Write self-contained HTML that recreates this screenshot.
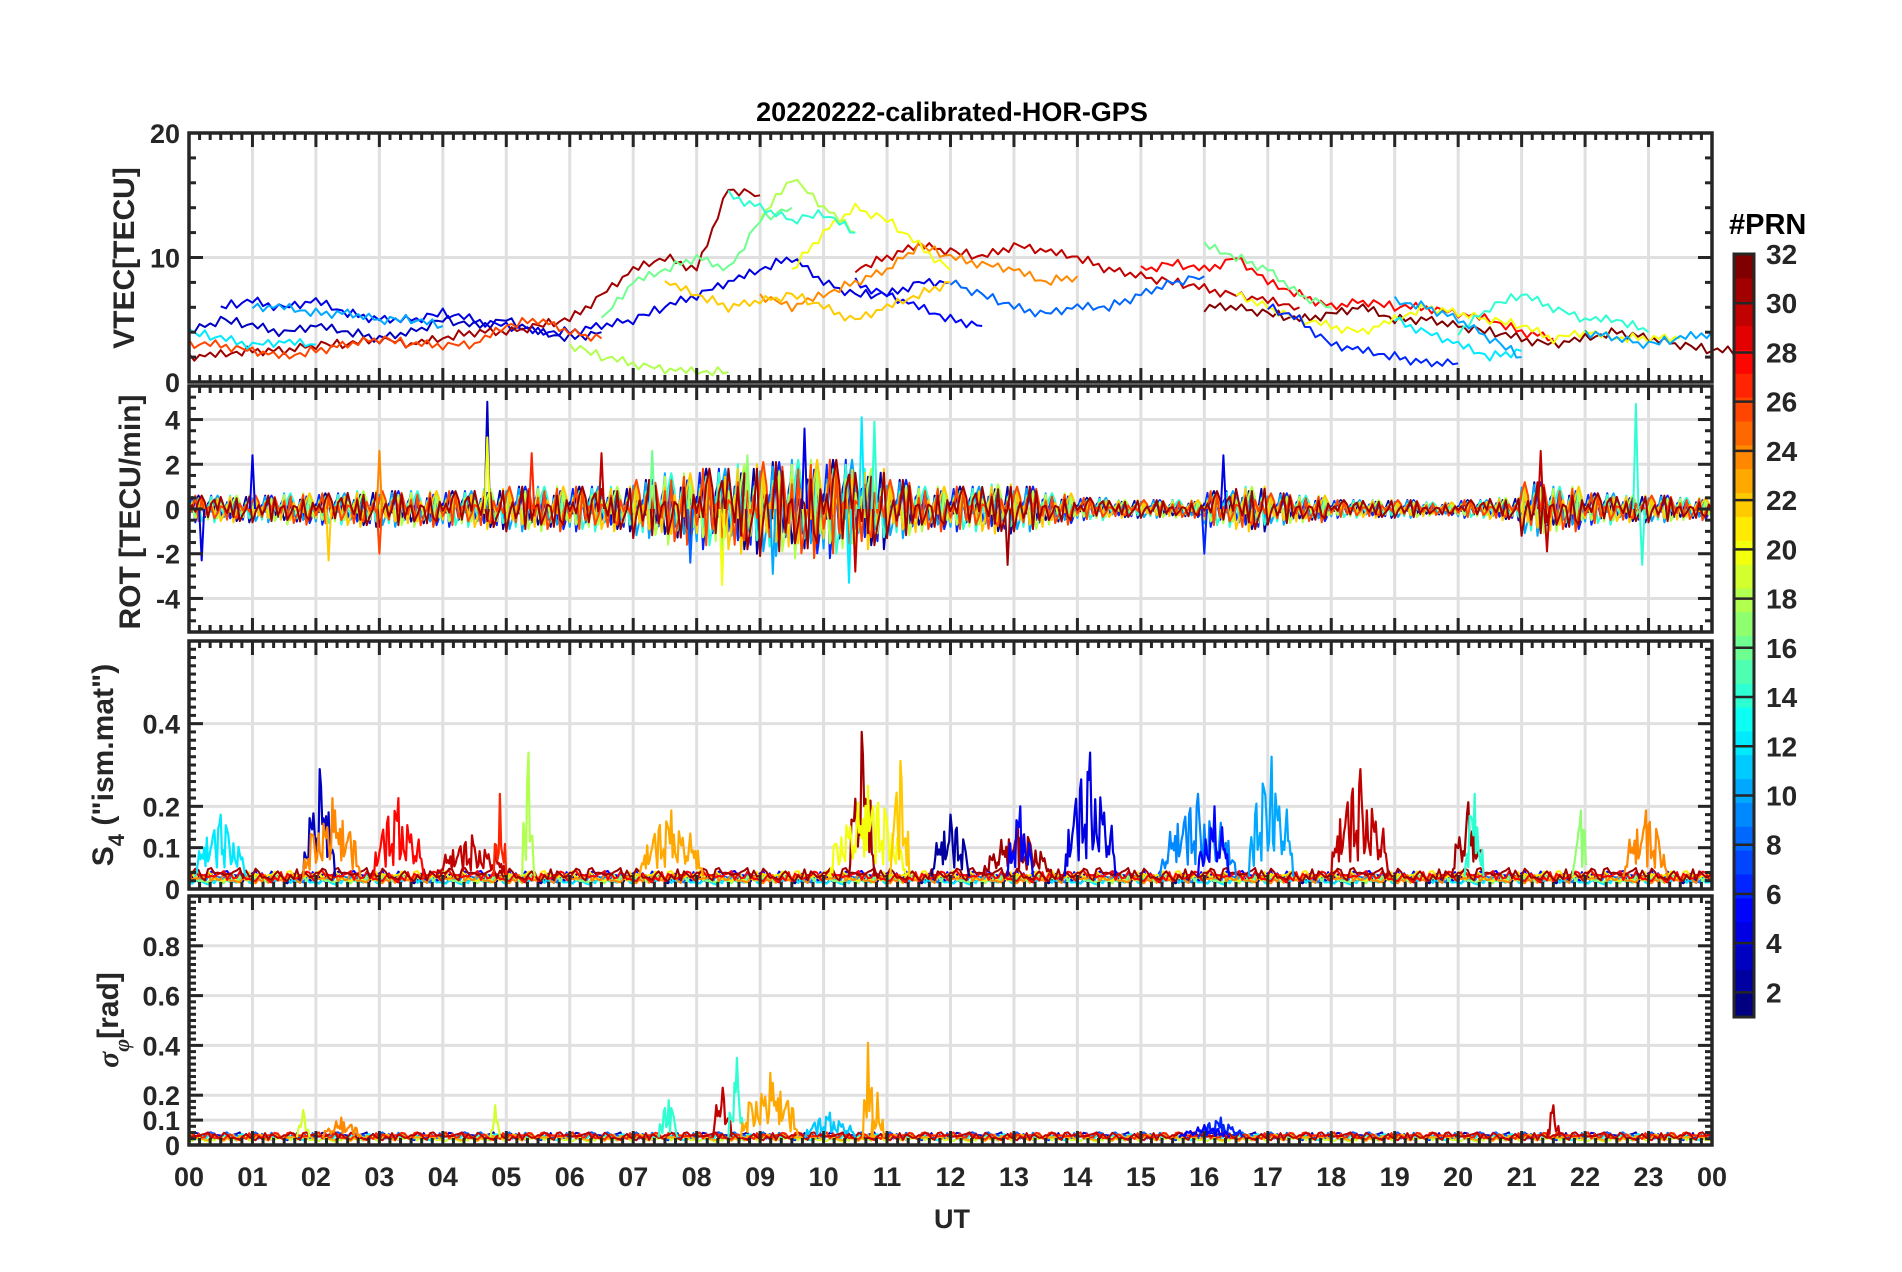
<!DOCTYPE html>
<html><head><meta charset="utf-8">
<style>
html,body{margin:0;padding:0;background:#fff;}
svg{display:block;font-family:"Liberation Sans",sans-serif;font-weight:bold;}
</style></head>
<body>
<svg id="chart" width="1902" height="1272" viewBox="0 0 1902 1272" xmlns="http://www.w3.org/2000/svg">
<rect x="0" y="0" width="1902" height="1272" fill="#fff"/>
<text x="952" y="121" font-size="27" text-anchor="middle" fill="#000">20220222-calibrated-HOR-GPS</text>
<g id="plots"></g>
<text x="952" y="1228" font-size="27" text-anchor="middle" fill="#262626">UT</text>
<text transform="translate(134,258) rotate(-90)" font-size="30" text-anchor="middle" fill="#262626">VTEC[TECU]</text>
<text transform="translate(140,512) rotate(-90)" font-size="30" text-anchor="middle" fill="#262626">ROT [TECU/min]</text>
<text transform="translate(113,765) rotate(-90)" font-size="30" text-anchor="middle" fill="#262626">S<tspan font-size="22" dy="11">4</tspan><tspan dy="-11"> ("ism.mat")</tspan></text>
<text transform="translate(118,1020) rotate(-90)" font-size="30" text-anchor="middle" fill="#262626"><tspan font-style="italic" font-family="Liberation Serif">σ</tspan><tspan font-size="22" dy="11" font-style="italic" font-family="Liberation Serif">φ</tspan><tspan dy="-11">[rad]</tspan></text>
<g id="cbar"></g>
</svg>
<script>
// ---------- data ----------
const hourTicks=["00","01","02","03","04","05","06","07","08","09","10","11","12","13","14","15","16","17","18","19","20","21","22","23","00"];
const vtecTicks=[0,10,20];
const rotTicks=[-4,-2,0,2,4];
const s4Ticks=[0,0.1,0.2,0.4];
const sigTicks=[0,0.1,0.2,0.4,0.6,0.8];
const cbarTicks=[2,4,6,8,10,12,14,16,18,20,22,24,26,28,30,32];
// VTEC series: prn, start hour, values every 0.5 h
const vtecPrn=[3,4,5,31,30,32,28,26,24,22,20,20,18,18,16,16,14,14,12,12,10,10,10,8,6];
const vtecStart=[0,0.5,10.5,0,10.5,16,15,0,9,7.5,9.5,16.5,6,9.0,6.5,16,8.5,20,0,19,1,19,22,12,17];
const vtecVals=[
[4,5,4.5,4,4.5,4,3.5,4,5,4.5,5,4,3.5,4],
[6,6.5,6,6.5,5.5,5,5,5.5,5,4.5,4,4,4.5,5,6,7,8,9,10,8,7,7,8,8],
[8,7,6,5,4.5],
[2,2.2,2.5,2.5,3,3,3.5,3,3.5,4,4,4.5,5,7,9,10,9,15.5,15],
[9,10,11,10.5,10,11,10.5,10,9,8.5,8,7.5,7,6.5,6],
[6,6,5.5,5,5.5,6,5,5,4.5,4,3.5,3,3.5,4,3.5,3,2.5,2.5],
[9,9.5,9,10,8,7,6,6.5,6,6,5.5,5,4,3.5],
[3,3,2.5,2,2.5,3,3.5,3,3,3,4.5,5,4,3.5],
[7,6,7,8,9,11,10,9.5,9,8,8.5],
[8,7,6,6.5,7,6,5,6,7,8],
[9,12,14,13,11,9],
[7,6,5,4.5,4,5,6,5.5,5,4.5,3.5,4,3.5,3.5,3.5],
[3,2,1.5,1,0.8,0.8],
[13,16.5,14,12],
[5,8,9,10,9,13,14],
[11,10,9,7,6],
[15,14,13,13.5,12],
[4,6,7,6,5,5,4],
[4,3.5,3,3.2,3],
[5,4,3,2,2.5],
[6,6,5.5,5.5,5,5,4.5],
[6.5,6,5,3.5,2],
[4,3.5,3,3.5,4],
[8,7,6,5.5,6,6,7,8,8.5],
[6,5,3,2.5,2,1.5,1.5]];
// ROT
const rotPattern=[0.3,-0.5,0.8,-0.2,0.1,-0.9,0.6,0.2,-0.4,1.0,-0.7,0.0,0.5,-0.3,0.9,-0.6,0.2,-1.0,0.4,0.1,-0.2,0.7,-0.8,0.3,-0.1,0.6,-0.4,0.9,-0.5,0.0,0.2,-0.7,1.0,-0.3,0.4,-0.9,0.5,-0.1,0.8,-0.6];
const rotAmp=[0.6,0.6,0.6,0.7,0.7,0.8,0.8,0.8,0.8,0.9,1.0,1.0,1.0,1.0,1.3,1.6,1.8,2.0,2.1,2.2,2.2,1.8,1.3,1.0,1.0,1.1,1.0,0.7,0.5,0.4,0.4,0.4,0.8,1.0,0.7,0.6,0.4,0.4,0.4,0.3,0.4,0.5,1.2,1.0,0.7,0.6,0.6,0.5];
const rotPrn=[2,6,10,14,18,22,26,31];
const rotSpikes=[[4.7,4.8,3],[4.7,3.2,20],[3.0,2.6,24],[1.0,2.4,4],[2.2,-2.3,22],[9.7,3.6,4],[10.6,4.1,12],[10.8,3.9,14],[10.4,-3.3,12],[8.4,-3.4,20],[10.5,-2.8,30],[9.2,-2.9,10],[12.9,-2.5,31],[21.3,2.6,30],[21.4,-1.9,30],[22.8,4.7,14],[22.9,-2.5,14],[16.3,2.4,4],[16.0,-2.0,6],[0.2,-2.3,4],[3.0,-2.0,26],[7.3,2.6,16],[7.9,-2.4,8],[6.5,2.5,30],[5.4,2.5,27],[8.8,2.4,17]];
// S4
const s4Prn=[2,5,9,12,17,21,24,28,31];
const s4Base=[0.025,0.03,0.025,0.02,0.025,0.03,0.025,0.03,0.035];
const s4Bursts=[[0.1,0.9,0.15,12],[1.8,2.3,0.26,3],[1.8,2.7,0.19,24],[2.9,3.7,0.19,28],[3.9,5.0,0.1,30],[4.8,5.0,0.2,27],[5.25,5.45,0.3,18],[7.1,8.1,0.16,23],[10.4,10.8,0.35,31],[10.1,11.3,0.22,20],[11.05,11.35,0.28,22],[11.7,12.3,0.15,2],[12.5,13.6,0.12,31],[12.9,13.3,0.17,5],[13.8,14.6,0.3,4],[15.3,16.5,0.2,9],[15.9,16.4,0.17,5],[16.7,17.4,0.29,10],[18.0,18.9,0.26,30],[19.9,20.4,0.18,31],[20.1,20.4,0.2,14],[21.8,22.05,0.16,17],[22.6,23.3,0.16,24]];
// sigma phi
const sigPrn=[3,8,13,19,23,27,30];
const sigBase=[0.035,0.035,0.03,0.025,0.03,0.035,0.035];
const sigBursts=[[8.25,8.55,0.2,30],[8.5,8.75,0.32,14],[8.7,9.6,0.26,23],[9.7,10.5,0.1,11],[10.62,10.78,0.38,23],[10.75,10.95,0.18,23],[7.4,7.7,0.15,14],[1.7,1.9,0.11,19],[2.1,2.7,0.08,24],[21.4,21.6,0.13,30],[15.9,16.6,0.08,6],[4.75,4.9,0.13,19],[15.6,16.4,0.05,5]];
// ---------- layout ----------
const L=189,R=1712;
const panels=[{top:133,bot:382,min:0,max:20,ticks:vtecTicks,minor:2,name:'vtec'},
{top:386,bot:632,min:-5.5,max:5.5,ticks:rotTicks,minor:0.5,name:'rot'},
{top:641,bot:889,min:0,max:0.6,ticks:s4Ticks,minor:0.02,name:'s4'},
{top:896,bot:1145,min:0,max:1.0,ticks:sigTicks,minor:0.025,name:'sigma'}];
const NS='http://www.w3.org/2000/svg';
const X=h=>L+(R-L)*h/24;
function Y(p,v){return p.bot-(p.bot-p.top)*(v-p.min)/(p.max-p.min);}
function jet(prn){const t=(prn-1)/31;const c=x=>Math.round(255*Math.max(0,Math.min(1,1.5-Math.abs(4*t-x))));return `rgb(${c(3)},${c(2)},${c(1)})`;}
function mk(tag,attrs,parent){const e=document.createElementNS(NS,tag);for(const k in attrs)e.setAttribute(k,attrs[k]);parent.appendChild(e);return e;}
const plots=document.getElementById('plots');
function line(p,pts,prn,g,w){
  const d=pts.map((q,i)=>(i?'L':'M')+X(q[0]).toFixed(1)+' '+Math.max(p.top,Math.min(p.bot,Y(p,q[1]))).toFixed(1)).join('');
  const e=mk('path',{d:d,fill:'none',stroke:jet(prn),'stroke-width':w||2,'stroke-linejoin':'round'},g);
  
  
}
panels.forEach((p,pi)=>{
  const g=mk('g',{},plots);
  
  
  for(let h=1;h<24;h++) mk('line',{x1:X(h),x2:X(h),y1:p.top,y2:p.bot,stroke:'#e0e0e0','stroke-width':3},g);
  p.ticks.forEach(v=>{if(v>p.min&&v<p.max) mk('line',{x1:L,x2:R,y1:Y(p,v),y2:Y(p,v),stroke:'#e0e0e0','stroke-width':3},g);});
  const dg=mk('g',{},g);
  
  
  p.g=dg;
  const ax=mk('g',{stroke:'#262626'},g);
  
  
  for(let m=1;m<144;m++){const x=X(m/6);const len=(m%6===0)?14:7;
    mk('line',{x1:x,x2:x,y1:p.top,y2:p.top+len,'stroke-width':3},ax);
    mk('line',{x1:x,x2:x,y1:p.bot,y2:p.bot-len,'stroke-width':3},ax);}
  for(let v=p.min;v<=p.max+1e-9;v+=p.minor){const y=Y(p,v);
    const maj=p.ticks.some(t=>Math.abs(t-v)<1e-6);const len=maj?14:7;
    mk('line',{x1:L,x2:L+len,y1:y,y2:y,'stroke-width':3},ax);
    mk('line',{x1:R,x2:R-len,y1:y,y2:y,'stroke-width':3},ax);}
  mk('rect',{x:L,y:p.top,width:R-L,height:p.bot-p.top,fill:'none','stroke-width':3.5},ax);
  p.ticks.forEach(v=>{const t=mk('text',{x:L-9,y:Y(p,v)+10,'font-size':27,'text-anchor':'end',fill:'#262626'},g);t.textContent=String(v);
    
    });
});
hourTicks.forEach((s,i)=>{const t=mk('text',{x:X(i),y:1186,'font-size':27,'text-anchor':'middle',fill:'#262626'},plots);t.textContent=s;
  
  });
// VTEC
vtecVals.forEach((vals,k)=>{const pts=vals.map((v,i)=>[vtecStart[k]+i*0.5,v]);
  const dense=[];for(let i=0;i<pts.length-1;i++){for(let j=0;j<6;j++){const f=j/6;dense.push([pts[i][0]+0.5*f,pts[i][1]*(1-f)+pts[i+1][1]*f+0.4*rotPattern[(i*6+j+k*7)%40]]);}}
  dense.push(pts[pts.length-1]);
  line(panels[0],dense,vtecPrn[k],panels[0].g,2);});
// ROT
rotPrn.forEach((prn,k)=>{const pts=[];for(let i=0;i<=480;i++){const h=i*0.05;pts.push([h,rotAmp[Math.min(47,Math.floor(h*2))]*rotPattern[(i*3+k*11)%40]]);}
  line(panels[1],pts,prn,panels[1].g,2);});
rotSpikes.forEach(s=>line(panels[1],[[s[0]-0.04,0],[s[0],s[1]],[s[0]+0.04,0]],s[2],panels[1].g,2));
// S4 & sigma
function scint(p,prns,bases,bursts){
  prns.forEach((prn,k)=>{const pts=[];for(let i=0;i<=480;i++){const h=i/20;pts.push([h,bases[k]*(1+0.45*rotPattern[(i*7+k*5)%40])]);}line(p,pts,prn,p.g,2);});
  bursts.forEach((b,k)=>{const pts=[];const n=Math.max(4,Math.round((b[1]-b[0])*50));const mid=Math.round(n/2);
    for(let i=0;i<=n;i++){const h=b[0]+(b[1]-b[0])*i/n;const env=Math.sqrt(Math.sin(Math.PI*i/n));const a=Math.abs(rotPattern[(i*3+k*7)%40]);
      pts.push([h,0.03+b[2]*(i===mid?1:env*(0.15+0.7*a))]);}
    line(p,pts,b[3],p.g,2.2);});
}
scint(panels[2],s4Prn,s4Base,s4Bursts);
scint(panels[3],sigPrn,sigBase,sigBursts);
// colorbar
const cb=document.getElementById('cbar');


const cT=254,cB=1017,cL=1734,cW=20;const cy=v=>cB-(cB-cT)*(v-1)/31;
for(let i=1;i<=32;i++){const y1=cB-(cB-cT)*(i-1)/32,y0=cB-(cB-cT)*i/32;mk('rect',{x:cL,y:y0,width:cW,height:y1-y0+0.6,fill:jet(i)},cb);}
cbarTicks.forEach(v=>{mk('line',{x1:cL,x2:cL+cW,y1:cy(v),y2:cy(v),stroke:'#262626','stroke-width':2.5},cb);
  const t=mk('text',{x:cL+32,y:cy(v)+10,'font-size':28,fill:'#262626'},cb);t.textContent=String(v);
  
  });
mk('rect',{x:cL,y:cT,width:cW,height:cB-cT,fill:'none',stroke:'#262626','stroke-width':3},cb);
const ct=mk('text',{x:1729,y:234,'font-size':29,fill:'#000'},cb);ct.textContent='#PRN';


</script>
</body></html>
